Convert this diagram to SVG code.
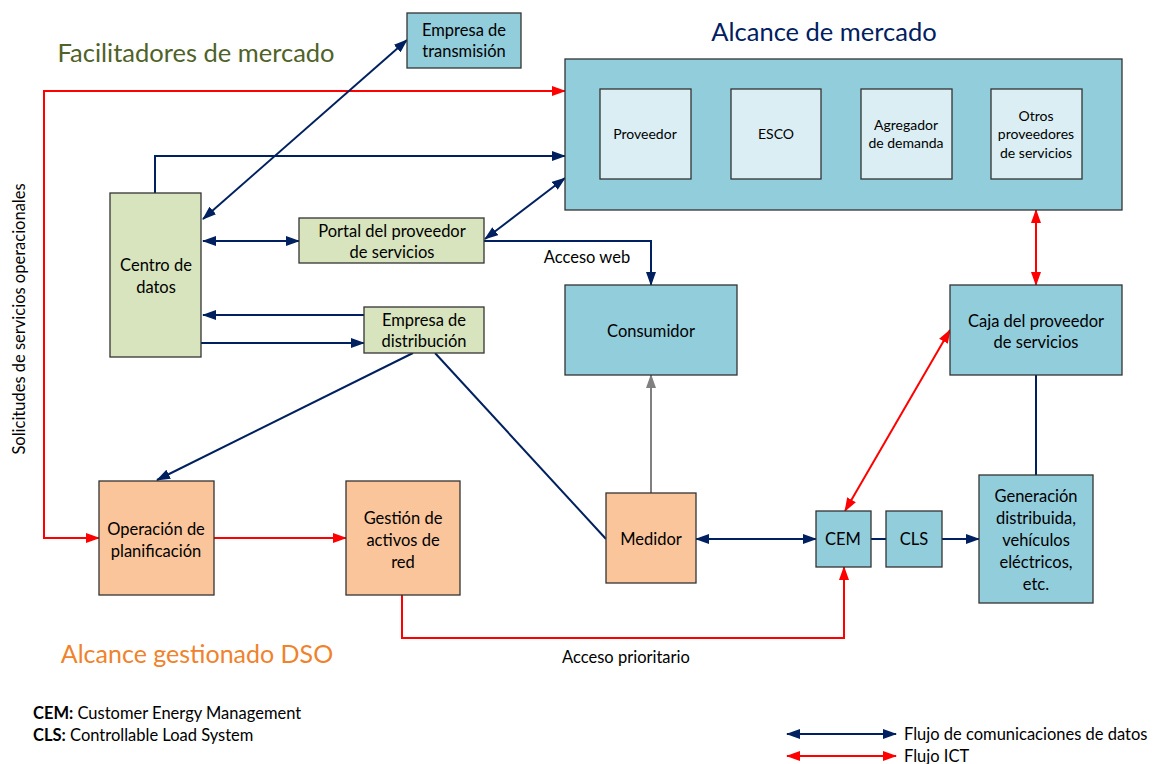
<svg xmlns="http://www.w3.org/2000/svg" width="1159" height="764" viewBox="0 0 1159 764">
<style>
text{font-family:Lato,"Liberation Sans",sans-serif;fill:#000;text-anchor:middle}
.lbl{font-size:16.5px}
.sm{font-size:14px}
.cap{font-size:16.5px}
.leg{font-size:16.5px;text-anchor:start}
.box{stroke:#333;stroke-width:1.3}
.mk{fill:#92CDDC}
.in{fill:#DAEEF3}
.gr{fill:#D7E4BD}
.or{fill:#FAC59A}
.b{fill:none;stroke:#002060;stroke-width:2}
.r{fill:none;stroke:#FF0000;stroke-width:2}
.g{fill:none;stroke:#808080;stroke-width:2}
</style>
<defs>
<marker id="ab" viewBox="0 0 14 10" refX="13" refY="5" markerWidth="14" markerHeight="10" markerUnits="userSpaceOnUse" orient="auto-start-reverse"><path d="M0,0 L14,5 L0,10 z" fill="#002060"/></marker>
<marker id="ar" viewBox="0 0 14 10" refX="13" refY="5" markerWidth="14" markerHeight="10" markerUnits="userSpaceOnUse" orient="auto-start-reverse"><path d="M0,0 L14,5 L0,10 z" fill="#FF0000"/></marker>
<marker id="ag" viewBox="0 0 14 10" refX="13" refY="5" markerWidth="14" markerHeight="10" markerUnits="userSpaceOnUse" orient="auto-start-reverse"><path d="M0,0 L14,5 L0,10 z" fill="#808080"/></marker>
</defs>
<rect width="1159" height="764" fill="#fff"/>

<text x="196" y="62" style="font-size:25.5px;fill:#4F6228">Facilitadores de mercado</text>
<text x="824" y="41" style="font-size:25.5px;fill:#002060">Alcance de mercado</text>
<text x="197" y="663" style="font-size:25px;fill:#F0822C">Alcance gestionado DSO</text>
<text transform="translate(25,319) rotate(-90)" class="cap">Solicitudes de servicios operacionales</text>

<g id="connectors">
<path class="r" d="M565,91 H44 V538 H99" marker-start="url(#ar)" marker-end="url(#ar)"/>
<path class="r" d="M214,538 H346" marker-end="url(#ar)"/>
<path class="r" d="M402,595 V638 H844 V567" marker-end="url(#ar)"/>
<path class="r" d="M1036,210 V285" marker-start="url(#ar)" marker-end="url(#ar)"/>
<path class="r" d="M950,330 L845,511" marker-start="url(#ar)" marker-end="url(#ar)"/>
<path class="b" d="M407,40 L203,219" marker-start="url(#ab)" marker-end="url(#ab)"/>
<path class="b" d="M155,193 V156 H565" marker-end="url(#ab)"/>
<path class="b" d="M203,241 H299" marker-start="url(#ab)" marker-end="url(#ab)"/>
<path class="b" d="M485,239 L565,178" marker-start="url(#ab)" marker-end="url(#ab)"/>
<path class="b" d="M484,241 H651 V285" marker-end="url(#ab)"/>
<path class="b" d="M364,315 H203" marker-end="url(#ab)"/>
<path class="b" d="M201,343 H364" marker-end="url(#ab)"/>
<path class="b" d="M413,353 L157,480" marker-end="url(#ab)"/>
<path class="b" d="M435,353 L606,539"/>
<path class="g" d="M651,493 V375" marker-end="url(#ag)"/>
<path class="b" d="M696,539 H816" marker-start="url(#ab)" marker-end="url(#ab)"/>
<path class="b" d="M871,539 H886"/>
<path class="b" d="M942,539 H979" marker-end="url(#ab)"/>
<path class="b" d="M1036,475 V375"/>
<text x="587" y="263" class="cap">Acceso web</text>
<text x="626" y="663" class="cap">Acceso prioritario</text>
</g>

<g id="transmision"><rect class="box mk" x="407" y="13" width="114" height="55"/><text class="lbl" x="464" y="36">Empresa de</text><text class="lbl" x="464" y="57">transmisión</text></g>

<g id="mercado"><rect class="box mk" x="565" y="59" width="557" height="151"/></g>
<g id="proveedor"><rect class="box in" x="600" y="89" width="91" height="90"/><text class="sm" x="645" y="139">Proveedor</text></g>
<g id="esco"><rect class="box in" x="731" y="89" width="90" height="90"/><text class="sm" x="776" y="139">ESCO</text></g>
<g id="agregador"><rect class="box in" x="861" y="89" width="91" height="90"/><text class="sm" x="906" y="130">Agregador</text><text class="sm" x="906" y="148">de demanda</text></g>
<g id="otros"><rect class="box in" x="991" y="89" width="91" height="90"/><text class="sm" x="1036" y="121">Otros</text><text class="sm" x="1036" y="139">proveedores</text><text class="sm" x="1036" y="158">de servicios</text></g>

<g id="centro"><rect class="box gr" x="110" y="193" width="91" height="164"/><text class="lbl" x="156" y="271">Centro de</text><text class="lbl" x="156" y="293">datos</text></g>
<g id="portal"><rect class="box gr" x="299" y="218" width="185" height="45"/><text class="lbl" x="392" y="237">Portal del proveedor</text><text class="lbl" x="392" y="258">de servicios</text></g>
<g id="distribucion"><rect class="box gr" x="364" y="307" width="120" height="46"/><text class="lbl" x="424" y="326">Empresa de</text><text class="lbl" x="424" y="347">distribución</text></g>

<g id="consumidor"><rect class="box mk" x="565" y="285" width="172" height="90"/><text class="lbl" x="651" y="337">Consumidor</text></g>
<g id="caja"><rect class="box mk" x="950" y="285" width="172" height="90"/><text class="lbl" x="1036" y="327">Caja del proveedor</text><text class="lbl" x="1036" y="348">de servicios</text></g>

<g id="operacion"><rect class="box or" x="99" y="481" width="115" height="114"/><text class="lbl" x="156" y="535">Operación de</text><text class="lbl" x="156" y="557">planificación</text></g>
<g id="gestion"><rect class="box or" x="346" y="481" width="114" height="114"/><text class="lbl" x="403" y="524">Gestión de</text><text class="lbl" x="403" y="546">activos de</text><text class="lbl" x="403" y="568">red</text></g>
<g id="medidor"><rect class="box or" x="606" y="493" width="90" height="90"/><text class="lbl" x="651" y="545">Medidor</text></g>
<g id="cem"><rect class="box mk" x="816" y="511" width="55" height="56"/><text class="lbl" x="843" y="545">CEM</text></g>
<g id="cls"><rect class="box mk" x="886" y="511" width="56" height="56"/><text class="lbl" x="914" y="545">CLS</text></g>
<g id="generacion"><rect class="box mk" x="979" y="475" width="114" height="128"/><text class="lbl" x="1036" y="502">Generación</text><text class="lbl" x="1036" y="524">distribuida,</text><text class="lbl" x="1036" y="546">vehículos</text><text class="lbl" x="1036" y="568">eléctricos,</text><text class="lbl" x="1036" y="590">etc.</text></g>

<g id="leyenda">
<text x="33" y="719" class="leg"><tspan font-weight="bold">CEM:</tspan> Customer Energy Management</text>
<text x="33" y="741" class="leg"><tspan font-weight="bold">CLS:</tspan> Controllable Load System</text>
<path class="b" d="M787,734 H896" marker-start="url(#ab)" marker-end="url(#ab)"/>
<path class="r" d="M787,756 H896" marker-start="url(#ar)" marker-end="url(#ar)"/>
<text x="904" y="740" class="leg">Flujo de comunicaciones de datos</text>
<text x="904" y="762" class="leg">Flujo ICT</text>
</g>
</svg>
